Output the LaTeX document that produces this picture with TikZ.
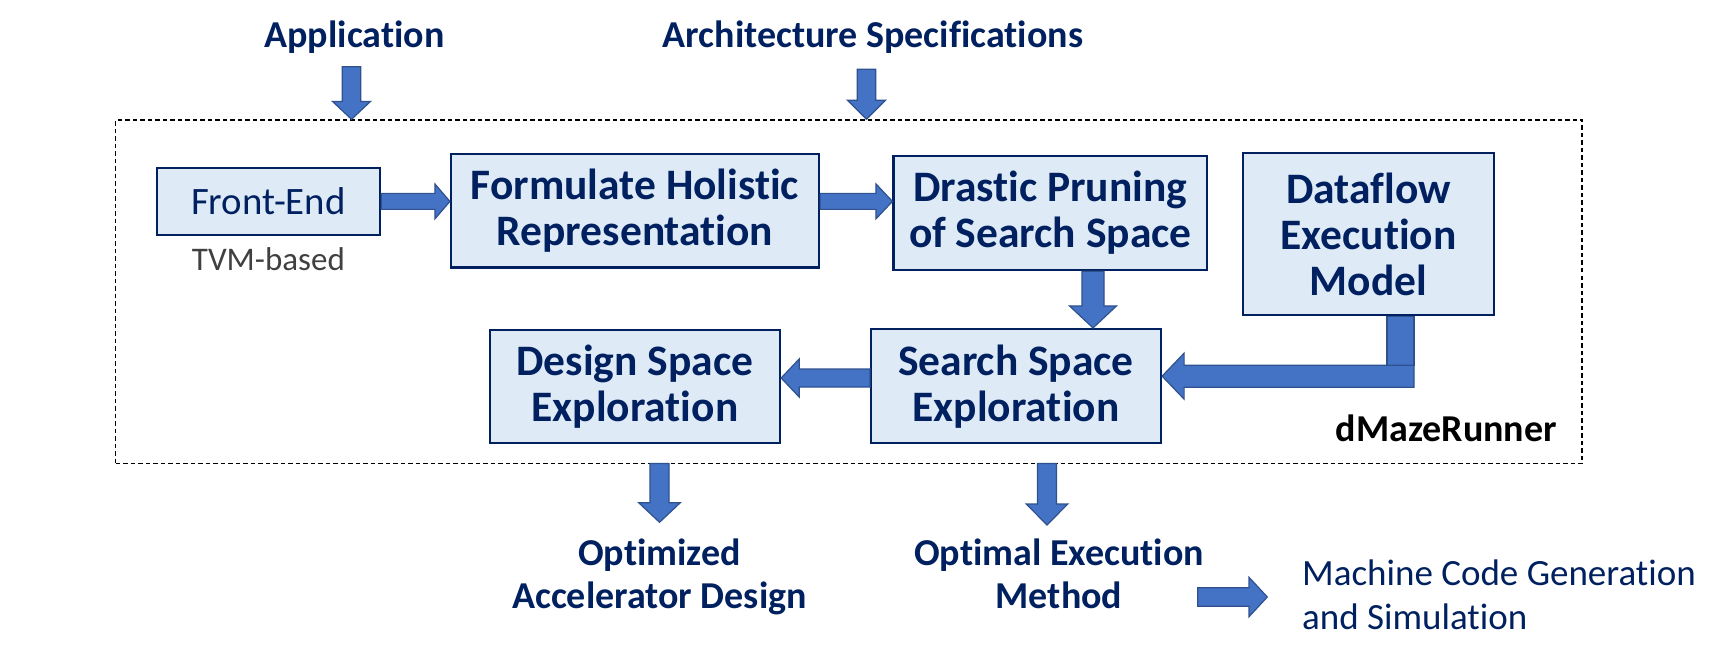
\documentclass[tikz,border=0pt]{standalone}
\usepackage{fontspec}
\setmainfont{Carlito}[Ligatures=NoCommon]
\usetikzlibrary{calc}
\definecolor{navy}{RGB}{0,32,96}
\definecolor{boxfill}{RGB}{222,235,247}
\definecolor{arrfill}{RGB}{68,114,196}
\definecolor{arrline}{RGB}{47,82,143}
\definecolor{tvmgray}{RGB}{64,64,64}
\newcommand\boxfont{\fontsize{43.5}{46}\selectfont\bfseries}
\newcommand\lblfont{\fontsize{38}{43.3}\selectfont\bfseries}
\newcommand\fefont{\fontsize{38.8}{46}\selectfont}
\newcommand\tvmfont{\fontsize{33}{38}\selectfont}
\newcommand\mcfont{\fontsize{37}{44.3}\selectfont}
\newcommand\dmfont{\fontsize{38}{40}\selectfont\bfseries}
% block arrow: start, end, shaft half width, head half width, head length
\newcommand\blockarrow[5]{%
  \path[barrow] let \p1=#1, \p2=#2,
    \n1={veclen(\x2-\x1,\y2-\y1)}, \n2={atan2(\y2-\y1,\x2-\x1)} in
    {[shift={(\p1)}, rotate=\n2]
      (0,#3) -- (\n1-#5,#3) -- (\n1-#5,#4) -- (\n1,0) -- (\n1-#5,-#4)
      -- (\n1-#5,-#3) -- (0,-#3) -- cycle};}
\tikzset{
  box/.style={draw=navy, fill=boxfill, line width=2.2pt, text=navy,
    align=center, inner sep=0pt},
  frame/.style={draw=black, line width=1.4pt, dash pattern=on 4.5pt off 3pt,
    inner sep=0pt},
  lbl/.style={text=navy, font=\lblfont, align=center, inner sep=0pt},
  barrow/.style={fill=arrfill, draw=arrline, line width=1.2pt, line join=miter},
}
\begin{document}
\begin{tikzpicture}[x=1pt, y=-1pt]
\useasboundingbox (0,0) rectangle (1726,663);
% frame
\node[frame, minimum width=1466.5pt, minimum height=343.5pt] (frame) at (848.75,291.75) {};
% boxes
\node[box, font=\fefont, minimum width=223.3pt, minimum height=67.3pt] (FE) at (268.4,201.4) {Front-End};
\node[box, font=\boxfont, minimum width=368pt, minimum height=113.5pt] (FHR) at (635,210.8) {Formulate Holistic\\Representation};
\node[box, font=\boxfont, minimum width=313.5pt, minimum height=114.3pt] (DP) at (1050.3,212.9) {Drastic Pruning\\of Search Space};
\node[box, font=\boxfont, minimum width=251pt, minimum height=162.3pt] (DF) at (1368.5,233.9) {Dataflow\\Execution\\Model};
\node[box, font=\boxfont, minimum width=290pt, minimum height=114.3pt] (SSE) at (1016,386.2) {Search Space\\Exploration};
\node[box, font=\boxfont, minimum width=290.3pt, minimum height=113.3pt] (DSE) at (634.9,386.7) {Design Space\\Exploration};
% labels
\node[text=tvmgray, font=\tvmfont, inner sep=0pt, anchor=base] (tvm) at (268.4,270) {TVM-based};
\node[lbl, anchor=base] (app) at (354.5,47.7) {Application};
\node[lbl, anchor=base] (arch) at (873,48) {Architecture Specifications};
\node[lbl, anchor=base] (oad) at (659.5,608.3) {Optimized\\Accelerator Design};
\node[lbl, anchor=base] (oem) at (1059,608.3) {Optimal Execution\\Method};
\node[text=navy, font=\mcfont, align=left, inner sep=0pt, anchor=base west] (mcg) at (1302,629.3) {Machine Code Generation\\and Simulation};
\node[font=\dmfont, inner sep=0pt, anchor=base east] (dmr) at (1557,441) {dMazeRunner};
% arrow end points
\coordinate (appA) at (351.5,66.7);
\coordinate (archA) at (866.5,69.3);
\coordinate (a3) at ($(DP.south)+(42.7,0)$);
\coordinate (a4) at ($(SSE.west)+(0,-8.2)$);
\coordinate (elb) at ($(DF.south)+(45.5,60)$);
\coordinate (dseA) at (659.5,463.5);
\coordinate (dseB) at (659.5,522.3);
\coordinate (sseA) at (1047,463.5);
\coordinate (sseB) at (1047,525);
\coordinate (mcA) at (1197.7,597);
\coordinate (mcB) at (1267.3,597);
% arrows
\blockarrow{(appA)}{(appA |- frame.north)}{9.2}{18.8}{17.7}
\blockarrow{(archA)}{(archA |- frame.north)}{9.2}{19}{19}
\blockarrow{(FE.east)}{(FHR.west |- FE.east)}{8}{17.5}{15}
\blockarrow{(FHR.east |- FE.east)}{(DP.west |- FE.east)}{8}{17.5}{16.5}
\blockarrow{(a3)}{(a3 |- SSE.north)}{11}{23.5}{22}
\blockarrow{(a4)}{(a4 -| DSE.east)}{9}{19}{18}
\draw[barrow] ($(DF.south)+(18.5,0)$) rectangle ($(DF.south)+(45.5,49)$);
\blockarrow{(elb)}{(elb -| SSE.east)}{11}{23}{22}
\blockarrow{(dseA)}{(dseB)}{9.5}{20.8}{19.6}
\blockarrow{(sseA)}{(sseB)}{9.5}{20.8}{21}
\blockarrow{(mcA)}{(mcB)}{9.2}{19.7}{18.3}
\end{tikzpicture}
\end{document}
